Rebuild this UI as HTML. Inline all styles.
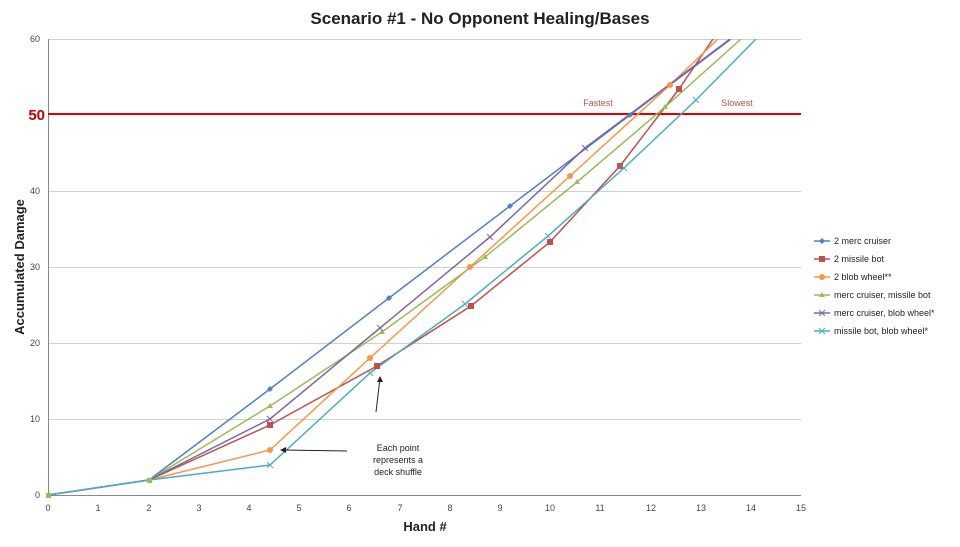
<!DOCTYPE html><html><head><style>body{margin:0;background:#fff}svg text{font-family:"Liberation Sans",sans-serif}</style></head><body>
<svg width="960" height="542" xmlns="http://www.w3.org/2000/svg">
<defs><clipPath id="c"><rect x="48" y="39" width="753" height="457"/></clipPath></defs>
<text x="480" y="24" text-anchor="middle" font-size="17" font-weight="bold" fill="#222">Scenario #1 - No Opponent Healing/Bases</text>
<g stroke="#d0d0d0" stroke-width="1">
<line x1="48" y1="39.5" x2="801" y2="39.5"/><line x1="48" y1="191.5" x2="801" y2="191.5"/><line x1="48" y1="267.5" x2="801" y2="267.5"/><line x1="48" y1="343.5" x2="801" y2="343.5"/><line x1="48" y1="419.5" x2="801" y2="419.5"/>
</g>
<line x1="48.5" y1="39" x2="48.5" y2="495" stroke="#888"/><line x1="48" y1="495.5" x2="801" y2="495.5" stroke="#888"/>
<g font-size="9" fill="#444" text-anchor="end">
<text x="40" y="42">60</text><text x="40" y="194">40</text><text x="40" y="270">30</text><text x="40" y="346">20</text><text x="40" y="422">10</text><text x="40" y="498">0</text></g>
<text x="45" y="120" font-size="15" font-weight="bold" fill="#c00000" text-anchor="end">50</text>
<g font-size="9" fill="#444" text-anchor="middle">
<text x="48" y="511">0</text><text x="98" y="511">1</text><text x="149" y="511">2</text><text x="199" y="511">3</text><text x="249" y="511">4</text><text x="299" y="511">5</text><text x="349" y="511">6</text><text x="400" y="511">7</text><text x="450" y="511">8</text><text x="500" y="511">9</text><text x="550" y="511">10</text><text x="600" y="511">11</text><text x="651" y="511">12</text><text x="701" y="511">13</text><text x="751" y="511">14</text><text x="801" y="511">15</text></g>
<text x="425" y="531" text-anchor="middle" font-size="13" font-weight="bold" fill="#222">Hand #</text>
<text transform="translate(24,267) rotate(-90)" text-anchor="middle" font-size="13" font-weight="bold" fill="#222">Accumulated Damage</text>
<line x1="48" y1="114" x2="801" y2="114" stroke="#e00000" stroke-width="2"/>
<text x="598" y="106" font-size="9" fill="#c0504d" text-anchor="middle">Fastest</text>
<text x="737" y="106" font-size="9" fill="#c0504d" text-anchor="middle">Slowest</text>
<g clip-path="url(#c)" fill="none" stroke-width="1.5">
<polyline stroke="#4f81bd" points="48,495 149,480 270,389 389,298 510,206 630,115 731,39"/>
<polyline stroke="#c0504d" points="48,495 149,480 270,425 377,366 471,306 550,242 620,166 679,89 713,39"/>
<polyline stroke="#f79646" points="48,495 149,480 270,450 370,358 470,267 570,176 670,85 718,39"/>
<polyline stroke="#9bbb59" points="48,495 149,480 270,406 382,332 485,257 577,182 665,107 741,39"/>
<polyline stroke="#8064a2" points="48,495 149,480 270,419 380,328 490,237 585,148 730,39"/>
<polyline stroke="#4bacc6" points="48,495 149,480 270,465 370,373 465,304 548,236 624,168 696,100 756,39"/>
</g>
<g fill="#4f81bd"><path d="M270,386l3,3-3,3-3-3z M389,295l3,3-3,3-3-3z M510,203l3,3-3,3-3-3z M630,112l3,3-3,3-3-3z"/></g>
<g fill="#c0504d"><rect x="267" y="422" width="6" height="6"/><rect x="374" y="363" width="6" height="6"/><rect x="468" y="303" width="6" height="6"/><rect x="547" y="239" width="6" height="6"/><rect x="617" y="163" width="6" height="6"/><rect x="676" y="86" width="6" height="6"/></g>
<g fill="#f79646"><circle cx="270" cy="450" r="3"/><circle cx="370" cy="358" r="3"/><circle cx="470" cy="267" r="3"/><circle cx="570" cy="176" r="3"/><circle cx="670" cy="85" r="3"/></g>
<g fill="#9bbb59"><path d="M270,403l3,5h-6z M382,329l3,5h-6z M485,254l3,5h-6z M577,179l3,5h-6z M665,104l3,5h-6z"/></g>
<g fill="#4bacc6"><rect x="46" y="493" width="5" height="5" fill="#9bbb59"/><rect x="147" y="478" width="5" height="5" fill="#9bbb59"/></g>
<g stroke="#8064a2" stroke-width="1"><path d="M267,416l6,6m0-6l-6,6 M377,325l6,6m0-6l-6,6 M487,234l6,6m0-6l-6,6 M582,145l6,6m0-6l-6,6"/></g>
<g stroke="#4bacc6" stroke-width="1"><path d="M267,462l6,6m0-6l-6,6 M367,370l6,6m0-6l-6,6 M462,301l6,6m0-6l-6,6 M545,233l6,6m0-6l-6,6 M621,165l6,6m0-6l-6,6 M693,97l6,6m0-6l-6,6"/></g>
<line x1="376" y1="412" x2="380" y2="378" stroke="#222"/><path d="M380,376l-3,6h6z" fill="#222"/>
<line x1="347" y1="451" x2="283" y2="450" stroke="#222"/><path d="M280,450l6,-3v6z" fill="#222"/>
<g font-size="9" fill="#222" text-anchor="middle"><text x="398" y="451">Each point</text><text x="398" y="463">represents a</text><text x="398" y="475">deck shuffle</text></g>
<g font-size="9" fill="#222">
<line x1="814" y1="241" x2="830" y2="241" stroke="#4f81bd" stroke-width="1.5"/><path d="M822,238l3,3-3,3-3-3z" fill="#4f81bd"/><text x="834" y="244">2 merc cruiser</text>
<line x1="814" y1="259" x2="830" y2="259" stroke="#c0504d" stroke-width="1.5"/><rect x="819" y="256" width="6" height="6" fill="#c0504d"/><text x="834" y="262">2 missile bot</text>
<line x1="814" y1="277" x2="830" y2="277" stroke="#f79646" stroke-width="1.5"/><circle cx="822" cy="277" r="3" fill="#f79646"/><text x="834" y="280">2 blob wheel**</text>
<line x1="814" y1="295" x2="830" y2="295" stroke="#9bbb59" stroke-width="1.5"/><path d="M822,292l3,5h-6z" fill="#9bbb59"/><text x="834" y="298">merc cruiser, missile bot</text>
<line x1="814" y1="313" x2="830" y2="313" stroke="#8064a2" stroke-width="1.5"/><path d="M819,310l6,6m0-6l-6,6" stroke="#8064a2"/><text x="834" y="316">merc cruiser, blob wheel*</text>
<line x1="814" y1="331" x2="830" y2="331" stroke="#4bacc6" stroke-width="1.5"/><path d="M819,328l6,6m0-6l-6,6" stroke="#4bacc6"/><text x="834" y="334">missile bot, blob wheel*</text>
</g>
</svg>
</body></html>
